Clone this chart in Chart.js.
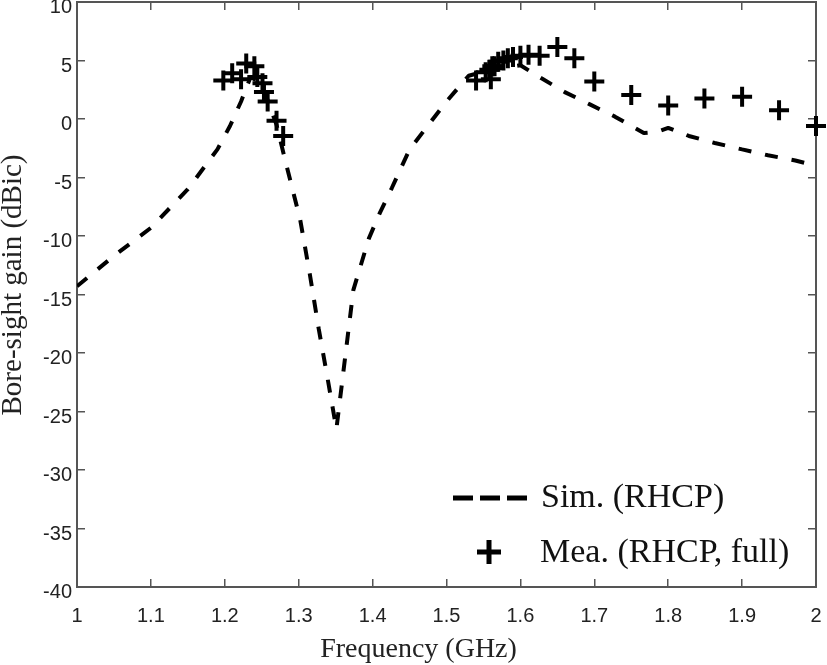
<!DOCTYPE html>
<html><head><meta charset="utf-8">
<style>html,body{margin:0;padding:0;background:#fff}#w{position:relative;width:827px;height:665px;overflow:hidden}</style>
<script src="https://cdn.jsdelivr.net/npm/chart.js@4"></script>
</head><body><div id="w"><canvas id="c" width="827" height="665"></canvas></div>
<script>
const simFreq=[1,1.05,1.1,1.15,1.19,1.207,1.222,1.235,1.25,1.27,1.284,1.302,1.315,1.327,1.34,1.351,1.374,1.395,1.41,1.426,1.45,1.5,1.53,1.56,1.6,1.628,1.66,1.694,1.728,1.767,1.785,1.8,1.828,1.863,1.9,1.935,1.972,2];
const simGain=[-14.3,-11.7,-9.3,-6,-2.6,-0.6,1.5,3.6,3,-0.5,-4.1,-8.6,-13.25,-17.9,-22.5,-26.5,-14.6,-10.2,-8,-5.9,-2.6,1.5,3.7,4.2,4.6,3.5,2.3,1.25,0.2,-1.2,-1.1,-0.75,-1.45,-2.05,-2.6,-3.1,-3.55,-4];
const meaFreq=[1.198,1.21,1.222,1.229,1.24,1.244,1.251,1.253,1.258,1.27,1.279,1.54,1.56,1.553,1.558,1.562,1.565,1.57,1.577,1.583,1.59,1.6,1.611,1.626,1.65,1.673,1.7,1.75,1.8,1.849,1.9,1.95,2];
const meaGain=[3.3,3.9,3.4,4.75,4.5,3.6,3.05,2.3,1.5,-0.15,-1.45,3.3,3.4,4,4.2,4.5,4.5,4.9,5,5.2,5.3,5.4,5.5,5.4,6.15,5.2,3.2,2.05,1.15,1.75,1.9,0.75,-0.6];
const xTicks=[1,1.1,1.2,1.3,1.4,1.5,1.6,1.7,1.8,1.9,2];
const yTicks=[10,5,0,-5,-10,-15,-20,-25,-30,-35,-40];
const seriesLabels=['Sim. (RHCP)','Mea. (RHCP, full)'];
const axisTitles=['Frequency (GHz)','Bore-sight gain (dBic)'];
const toXY=(a,b)=>a.map((v,i)=>({x:v,y:b[i]}));
const AX='#555',TX='#222';
const grid={drawOnChartArea:false,tickLength:-8,color:AX,lineWidth:1.5};
const border={color:AX,width:2};
const fixX=t=>{t.ticks=xTicks.map(v=>({value:v}));};
const fixY=t=>{t.ticks=yTicks.map(v=>({value:v}));};
const noPad=s=>{s.paddingLeft=s.paddingRight=s.paddingTop=s.paddingBottom=0;};
const textPlugin={id:'inlegend',afterDatasetsDraw(ch){
  const g=ch.ctx;g.save();g.fillStyle='#111';g.font='34px "Liberation Serif"';g.textBaseline='middle';g.textAlign='left';
  g.fillText(seriesLabels[0],541,498);g.fillText(seriesLabels[1],540,553);
  g.strokeStyle='#000';g.lineWidth=5;g.lineCap='butt';g.setLineDash([20,7]);
  g.beginPath();g.moveTo(453,498);g.lineTo(527,498);g.stroke();g.setLineDash([]);
  g.beginPath();g.moveTo(477,552);g.lineTo(501,552);g.moveTo(489,540);g.lineTo(489,564);g.stroke();
  g.fillStyle=TX;g.font='28px "Liberation Serif"';g.textAlign='center';
  g.fillText(axisTitles[0],418.5,650);
  g.translate(13,285);g.rotate(-Math.PI/2);g.font='29px "Liberation Serif"';
  g.fillText(axisTitles[1],0,0);
  g.restore();
}};
new Chart(document.getElementById('c'),{
  type:'scatter',
  data:{datasets:[
    {label:seriesLabels[0],data:toXY(simFreq,simGain),showLine:true,borderColor:'#000',borderWidth:4,borderDash:[13,14],borderJoinStyle:'bevel',pointRadius:0,tension:0,fill:false},
    {label:seriesLabels[1],data:toXY(meaFreq,meaGain),showLine:false,pointStyle:'cross',pointRadius:10,pointBorderColor:'#000',pointBorderWidth:4,borderColor:'#000',clip:false}
  ]},
  plugins:[textPlugin],
  options:{responsive:false,animation:false,devicePixelRatio:1,
    layout:{autoPadding:false,padding:{left:0,right:11,top:2,bottom:0}},
    plugins:{legend:{display:false},tooltip:{enabled:false},title:{display:false}},
    scales:{
      x:{type:'linear',position:'bottom',min:1,max:2,afterBuildTicks:fixX,grid,border,
        afterFit(s){s.height=78;noPad(s);},
        ticks:{padding:25,color:TX,font:{family:'"Liberation Sans"',size:20},maxRotation:0,autoSkip:false,callback:v=>String(v)},
        title:{display:false}},
      y:{type:'linear',position:'left',min:-40,max:10,afterBuildTicks:fixY,grid,border,
        afterFit(s){s.width=77;noPad(s);},
        ticks:{padding:13,labelOffset:5.5,color:TX,font:{family:'"Liberation Sans"',size:20},autoSkip:false,callback:v=>String(v)},
        title:{display:false}},
      x2:{type:'linear',position:'top',min:1,max:2,afterBuildTicks:fixX,grid,border,afterFit(s){s.height=0;noPad(s);},ticks:{display:false}},
      y2:{type:'linear',position:'right',min:-40,max:10,afterBuildTicks:fixY,grid,border,afterFit(s){s.width=0;noPad(s);},ticks:{display:false}}
    }
  }
});
</script></body></html>
